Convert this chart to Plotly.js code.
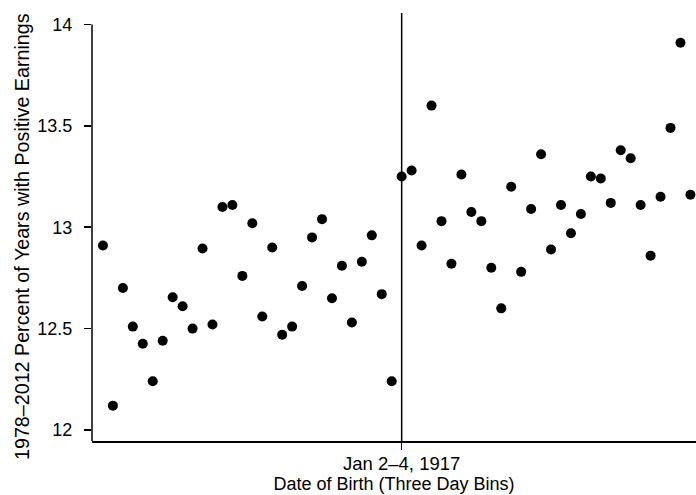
<!DOCTYPE html>
<html>
<head>
<meta charset="utf-8">
<script src="https://cdn.plot.ly/plotly-3.0.1.min.js"></script>
<style>html,body{margin:0;padding:0;background:#fff;}#chart{width:696px;height:495px;}</style>
</head>
<body>
<div id="chart"></div>
<script>
// Bin offset relative to the Jan 2–4, 1917 bin
const binOffset = [-30,-29,-28,-27,-26,-25,-24,-23,-22,-21,-20,-19,-18,-17,-16,-15,-14,-13,-12,-11,-10,-9,-8,-7,-6,-5,-4,-3,-2,-1,
                   0,1,2,3,4,5,6,7,8,9,10,11,12,13,14,15,16,17,18,19,20,21,22,23,24,25,26,27,28,29];
const pctYearsPositive = [
  12.91, 12.12, 12.70, 12.51, 12.425, 12.24, 12.44, 12.655, 12.61, 12.50,
  12.895, 12.52, 13.10, 13.11, 12.76, 13.02, 12.56, 12.90, 12.47, 12.51,
  12.71, 12.95, 13.04, 12.65, 12.81, 12.53, 12.83, 12.96, 12.67, 12.24,
  13.25, 13.28, 12.91, 13.60, 13.03, 12.82, 13.26, 13.075, 13.03, 12.80,
  12.60, 13.20, 12.78, 13.09, 13.36, 12.89, 13.11, 12.97, 13.065, 13.25,
  13.24, 13.12, 13.38, 13.34, 13.11, 12.86, 13.15, 13.49, 13.91, 13.16
];
const xTickVals = [0];
const xTickText = ["Jan 2–4, 1917"];
const yTickVals = [12, 12.5, 13, 13.5, 14];
const yTickText = ["12", "12.5", "13", "13.5", "14"];
const cutoff = 0;
const yTitle = "1978–2012 Percent of Years with Positive Earnings";

const yLow = 11.9457, yHigh = 14.0567;
const fontFam = "Liberation Sans, Arial, sans-serif";

const trace = {
  x: binOffset, y: pctYearsPositive, type: "scatter", mode: "markers",
  marker: {color: "#000", size: 10}, cliponaxis: false, hoverinfo: "x+y"
};

const layout = {
  width: 696, height: 495,
  margin: {l: 92, r: 0, t: 13, b: 54, pad: 0},
  paper_bgcolor: "#fff", plot_bgcolor: "#fff",
  showlegend: false,
  font: {family: fontFam, size: 18, color: "#000"},
  xaxis: {
    range: [-31.1, 29.56], showgrid: false, zeroline: false,
    showline: true, linecolor: "#000", linewidth: 1.5,
    tickmode: "array", tickvals: xTickVals, ticktext: xTickText,
    ticks: "outside", ticklen: 7, tickwidth: 1.5, tickcolor: "#000",
    ticklabelstandoff: -2,
    tickfont: {family: fontFam, size: 18.5, color: "#000"},
    title: {text: "Date of Birth (Three Day Bins)", font: {family: fontFam, size: 18, color: "#000"}, standoff: 2}
  },
  yaxis: {
    range: [yLow, yHigh], showgrid: false, zeroline: false, showline: false,
    tickmode: "array", tickvals: yTickVals, ticktext: yTickText,
    ticks: "outside", ticklen: 7, tickwidth: 1.5, tickcolor: "#000",
    ticklabelstandoff: 8,
    tickfont: {family: fontFam, size: 18, color: "#000"}
  },
  annotations: [
    {text: yTitle, xref: "paper", yref: "paper", x: -0.1159, y: 0.479,
     xanchor: "center", yanchor: "middle", textangle: -90, showarrow: false,
     font: {family: fontFam, size: 19.7, color: "#000"}}
  ],
  shapes: [
    {type: "line", xref: "paper", yref: "y", x0: 0, x1: 0, y0: yLow, y1: 14,
     line: {color: "#000", width: 1.5}},
    {type: "line", xref: "x", yref: "paper", x0: cutoff, x1: cutoff, y0: 0, y1: 1,
     line: {color: "#000", width: 1.5}}
  ]
};

Plotly.newPlot("chart", [trace], layout, {displayModeBar: false, staticPlot: true});
</script>
</body>
</html>
